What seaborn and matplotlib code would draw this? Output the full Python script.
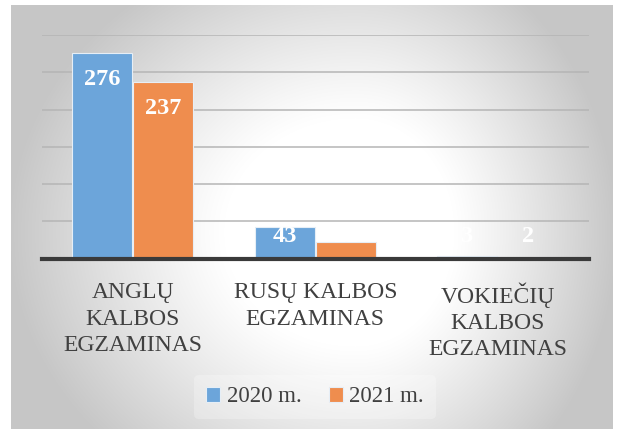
import numpy as np
import pandas as pd
import matplotlib
matplotlib.use("Agg")
import matplotlib.pyplot as plt
import seaborn as sns

categories = ["ANGLŲ\nKALBOS\nEGZAMINAS", "RUSŲ KALBOS\nEGZAMINAS", "VOKIEČIŲ\nKALBOS\nEGZAMINAS"]
series = ["2020 m.", "2021 m."]
values_2020 = [276, 43, 3]
values_2021 = [237, 22, 2]

df = pd.DataFrame({
    "cat": categories * 2,
    "series": [series[0]] * 3 + [series[1]] * 3,
    "val": values_2020 + values_2021,
})

sns.set_theme(style="white")
plt.rcParams["font.family"] = ["Liberation Serif", "DejaVu Serif"]

W, H = 619, 429
fig = plt.figure(figsize=(W / 100, H / 100), dpi=100, facecolor="white")

# background box with radial gradient (pixel-based)
bx0, by0, bx1, by1 = 11, 5, 613, 429
bg = fig.add_axes([bx0 / W, 1 - by1 / H, (bx1 - bx0) / W, (by1 - by0) / H], zorder=0)
px = np.arange(bx0, bx1)
py = np.arange(by0, by1)
X, Y = np.meshgrid(px, py)
cx, cy = 355.0, 232.0
nx = np.where(X < cx, (X - cx) / 345.0, (X - cx) / 260.0)
ny = (Y - cy) / 300.0
d = np.sqrt(nx ** 2 + ny ** 2)
t = np.clip((d - 0.38) / 0.62, 0, 1)
img = 1 - 0.22 * t ** 1.1
bg.imshow(np.dstack([img] * 3), extent=[0, 1, 1, 0], aspect="auto", interpolation="bilinear")
bg.set_axis_off()

ax = fig.add_axes([41.5 / W, 1 - 258.7 / H, (589 - 41.5) / W, (258.7 - 35) / H], zorder=1)
ax.set_facecolor("none")

palette = {series[0]: "#6CA5DA", series[1]: "#EF8D4E"}
sns.barplot(data=df, x="cat", y="val", hue="series", palette=palette, ax=ax,
            width=0.67, gap=0.02, edgecolor="#E6EEF6", linewidth=0.8, saturation=1,
            legend=True)

ax.set_ylim(0, 300)
ax.set_yticks(np.arange(50, 301, 50))
ax.yaxis.grid(True, color="#B5B5B5", linewidth=1.1)
ax.set_axisbelow(True)
ax.tick_params(axis="y", left=False, labelleft=False)
ax.tick_params(axis="x", bottom=False, pad=11, labelsize=17, colors="#404040")
for lab in ax.get_xticklabels():
    lab.set_linespacing(1.33)
ax.set_xlabel("")
ax.set_ylabel("")
for s in ["top", "right", "left"]:
    ax.spines[s].set_visible(False)
ax.spines["bottom"].set_color("#3A3A3A")
ax.spines["bottom"].set_linewidth(3)
ax.spines["bottom"].set_zorder(5)

# data labels
for cont in ax.containers:
    for bar in cont:
        v = bar.get_height()
        ylab = max(v - 36, 30)
        ax.text(bar.get_x() + bar.get_width() / 2, ylab, f"{int(round(v))}",
                ha="center", va="center", color="white", fontsize=17.5, fontweight="bold", zorder=6)

leg = ax.legend(loc="center", bbox_to_anchor=(315 / W, 1 - 397 / H), bbox_transform=fig.transFigure,
                ncol=2, frameon=True, fontsize=16.5, handlelength=0.6, handleheight=0.6,
                handletextpad=0.3, columnspacing=1.2, borderpad=0.5)
leg.get_frame().set_facecolor("white")
leg.get_frame().set_alpha(0.25)
leg.get_frame().set_edgecolor("none")
for t in leg.get_texts():
    t.set_color("#404040")

fig.savefig("out.png", dpi=100, facecolor="white")
